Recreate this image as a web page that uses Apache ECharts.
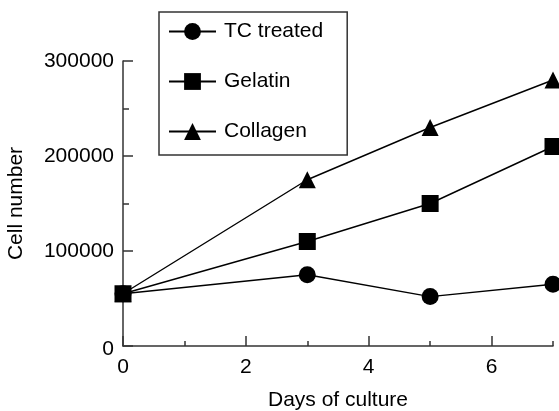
<!DOCTYPE html>
<html>
<head>
<meta charset="utf-8">
<script src="https://cdn.jsdelivr.net/npm/echarts@6/dist/echarts.min.js"></script>
<style>
  html, body { margin: 0; padding: 0; background: #fff; }
  #chart { width: 559px; height: 411px; }
</style>
</head>
<body>
<div id="chart"></div>
<script>
// Days sampled and cell counts per substrate
var days = [0, 3, 5, 7];
var tcTreated = [55000, 75000, 52000, 65000];
var gelatin = [55000, 110000, 150000, 210000];
var collagen = [55000, 175000, 230000, 280000];

var seriesNames = ['TC treated', 'Gelatin', 'Collagen'];
var xMajorTicks = [0, 2, 4, 6];
var xMinorTicks = [1, 3, 5, 7];

var FONT = '"Liberation Sans", Arial, Helvetica, sans-serif';
var FONT_SIZE = 21;
var AXIS_COLOR = '#333';

function pairs(ys) {
  return days.map(function (d, i) { return [d, ys[i]]; });
}

function lineSeries(name, ys, symbol, z) {
  return {
    name: name,
    type: 'line',
    data: pairs(ys),
    symbol: symbol,
    symbolSize: 17,
    z: z,
    clip: false,
    lineStyle: { color: '#000', width: 1.4 },
    itemStyle: { color: '#000' },
    emphasis: { disabled: true }
  };
}

var chart = echarts.init(document.getElementById('chart'), null, { renderer: 'canvas' });
chart.setOption({
  animation: false,
  backgroundColor: '#fff',
  textStyle: { fontFamily: FONT },
  grid: { left: 123, right: 6, top: 61, bottom: 65, containLabel: false, outerBoundsMode: 'none' },
  legend: {
    data: seriesNames,
    orient: 'vertical',
    left: 159,
    top: 12,
    itemWidth: 47,
    itemHeight: 21,
    itemGap: 29,
    padding: [9, 24, 13, 9],
    borderColor: AXIS_COLOR,
    borderWidth: 1.5,
    selectedMode: false,
    textStyle: { fontFamily: FONT, fontSize: FONT_SIZE, color: '#000', padding: [0, 0, 0, 3] }
  },
  xAxis: [
    {
      type: 'value',
      min: 0,
      max: 7,
      interval: 1,
      position: 'bottom',
      name: 'Days of culture',
      nameLocation: 'middle',
      nameGap: 44,
      nameTextStyle: { fontFamily: FONT, fontSize: FONT_SIZE, color: '#000' },
      axisLine: { show: true, lineStyle: { color: AXIS_COLOR, width: 1.5 } },
      axisTick: { show: true, inside: true, length: 10, customValues: xMajorTicks,
                  lineStyle: { color: AXIS_COLOR, width: 1.5 } },
      axisLabel: { customValues: xMajorTicks, margin: 11, fontFamily: FONT, fontSize: FONT_SIZE, color: '#000' },
      splitLine: { show: false }
    },
    {
      type: 'value',
      min: 0,
      max: 7,
      interval: 1,
      position: 'bottom',
      axisLine: { show: false },
      axisTick: { show: true, inside: true, length: 5, customValues: xMinorTicks,
                  lineStyle: { color: AXIS_COLOR, width: 1.5 } },
      axisLabel: { show: false },
      splitLine: { show: false }
    }
  ],
  yAxis: {
    type: 'value',
    min: 0,
    max: 300000,
    interval: 100000,
    name: 'Cell number',
    nameLocation: 'middle',
    nameRotate: 90,
    nameGap: 96,
    nameTextStyle: { fontFamily: FONT, fontSize: FONT_SIZE, color: '#000' },
    axisLine: { show: true, lineStyle: { color: AXIS_COLOR, width: 1.5 } },
    axisTick: { show: true, inside: true, length: 10, lineStyle: { color: AXIS_COLOR, width: 1.5 } },
    minorTick: { show: true, splitNumber: 2, length: 6, lineStyle: { color: AXIS_COLOR, width: 1.5 } },
    axisLabel: {
      margin: 9, fontFamily: FONT, fontSize: FONT_SIZE, color: '#000',
      formatter: function (v) { return v === 0 ? '{zero|0}' : String(v); },
      rich: {
        zero: { fontFamily: FONT, fontSize: FONT_SIZE, color: '#000', padding: [6, 0, 0, 0] }
      }
    },
    splitLine: { show: false }
  },
  series: [
    lineSeries(seriesNames[0], tcTreated, 'circle', 2),
    lineSeries(seriesNames[1], gelatin, 'rect', 4),
    lineSeries(seriesNames[2], collagen, 'triangle', 3)
  ]
});
</script>
</body>
</html>
